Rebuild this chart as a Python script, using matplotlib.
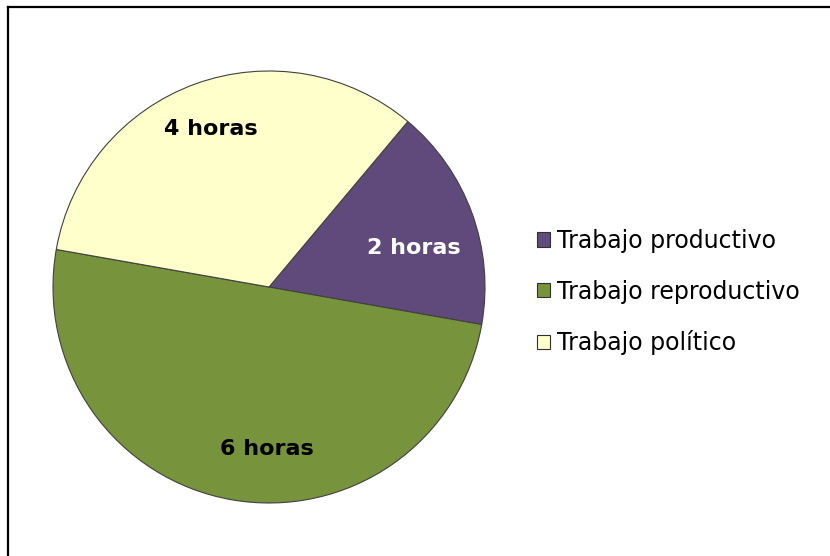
import matplotlib
matplotlib.use("Agg")
import matplotlib.pyplot as plt
from matplotlib.lines import Line2D
from matplotlib.patches import Patch

categories = ["Trabajo productivo", "Trabajo reproductivo", "Trabajo político"]
hours = [2, 6, 4]
slice_labels = ["2 horas", "6 horas", "4 horas"]
colors = ["#604A7B", "#77933C", "#FFFFCC"]
label_colors = ["white", "black", "black"]

fig = plt.figure(figsize=(8.30, 5.56), dpi=100)
ax = fig.add_axes([53/830, 53/556, 432/830, 432/556])
wedges, _ = ax.pie(hours, colors=colors, startangle=50, counterclock=False,
                   radius=1.0,
                   wedgeprops=dict(edgecolor="#404040", linewidth=0.8))
ax.set_xlim(-1, 1)
ax.set_ylim(-1, 1)
ax.set_aspect("equal")
ax.axis("off")

label_pos = [(0.67, 0.18), (-0.01, -0.75), (-0.27, 0.73)]
for (x, y), txt, c in zip(label_pos, slice_labels, label_colors):
    ax.text(x, y, txt, ha="center", va="center", fontsize=16,
            fontweight="bold", color=c)

handles = [Patch(facecolor=c, edgecolor="#303030", linewidth=0.8) for c in colors]
leg = fig.legend(handles, categories, loc="center left",
                 bbox_to_anchor=(537/830, 1 - 292/556), frameon=False,
                 fontsize=17, handlelength=0.55, handleheight=0.55,
                 handletextpad=0.3, labelspacing=1.13, borderaxespad=0,
                 borderpad=0)

# partial outer frame (top and left)
fig.add_artist(Line2D([8/830, 1.0], [1 - 7/556, 1 - 7/556], color="black",
                      linewidth=1.6, transform=fig.transFigure))
fig.add_artist(Line2D([8/830, 8/830], [0.0, 1 - 7/556], color="black",
                      linewidth=1.6, transform=fig.transFigure))

fig.savefig("out.png", dpi=100)
